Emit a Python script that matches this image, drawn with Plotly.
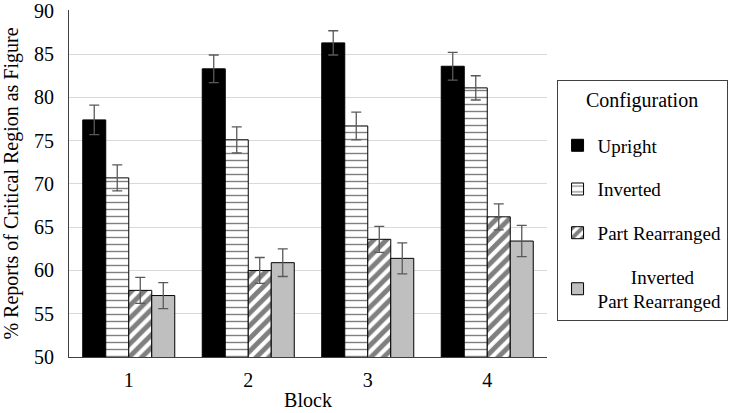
import plotly.graph_objects as go

blocks = ["1", "2", "3", "4"]
series_names = ["Upright", "Inverted", "Part Rearranged",
                "\u00a0" * 7 + "Inverted<br>Part Rearranged"]
upright = [77.4, 83.3, 86.3, 83.6]
inverted = [70.7, 75.1, 76.7, 81.1]
part_rearranged = [57.7, 60.0, 63.6, 66.2]
inv_part_rearranged = [57.1, 60.9, 61.4, 63.4]
err_upright = [1.7, 1.6, 1.4, 1.6]
err_inverted = [1.5, 1.5, 1.6, 1.4]
err_part = [1.5, 1.5, 1.5, 1.5]
err_inv_part = [1.5, 1.6, 1.8, 1.8]
y_ticks = [50, 55, 60, 65, 70, 75, 80, 85, 90]

values = [upright, inverted, part_rearranged, inv_part_rearranged]
errors = [err_upright, err_inverted, err_part, err_inv_part]

fills = ["black", "white", "white", "#bfbfbf"]
patterns = [
    dict(shape=""),
    dict(shape="-", fgcolor="black", bgcolor="white", size=7, solidity=0.2),
    dict(shape="/", fgcolor="black", bgcolor="white", size=9, solidity=0.55),
    dict(shape=""),
]

FF = "Liberation Serif"


def f(size):
    return dict(family=FF, size=size, color="black")


fig = go.Figure()
for i, name in enumerate(series_names):
    extra = {}
    if i == 0:
        extra = dict(legendgrouptitle=dict(text="\u00a0", font=f(9)))
    fig.add_trace(go.Bar(
        x=blocks, y=values[i], name=name, legendgroup=str(i),
        marker=dict(color=fills[i], line=dict(color="black", width=1), pattern=patterns[i]),
        error_y=dict(type="data", array=errors[i], color="#595959", thickness=1.3, width=5),
        **extra,
    ))

fig.update_layout(
    width=750, height=413,
    margin=dict(l=69, r=203, t=10, b=56),
    paper_bgcolor="white", plot_bgcolor="white",
    barmode="group", bargap=0.23, bargroupgap=0,
    font=f(20),
    legend=dict(
        x=1.02, y=0.797, xanchor="left", yanchor="top",
        title=dict(text="Configuration", side="top center", font=f(20)),
        bordercolor="#404040", borderwidth=1,
        font=f(19), tracegroupgap=16,
        entrywidth=190, entrywidthmode="pixels",
    ),
    xaxis=dict(
        title=dict(text="Block", font=f(20), standoff=2),
        showline=True, linecolor="#404040", linewidth=1,
        ticks="", tickfont=f(20), ticklabelstandoff=5, automargin=False,
    ),
    yaxis=dict(
        title=dict(text="% Reports of Critical Region as Figure", font=f(20), standoff=10),
        range=[50, 90.1], tickvals=y_ticks, ticklabeloverflow="allow",
        ticklabelstandoff=10, automargin=False,
        showline=True, linecolor="#404040", linewidth=1,
        showgrid=True, gridcolor="#d9d9d9", gridwidth=1,
        ticks="", tickfont=f(20), zeroline=False,
    ),
)

fig.write_html("out.html")
